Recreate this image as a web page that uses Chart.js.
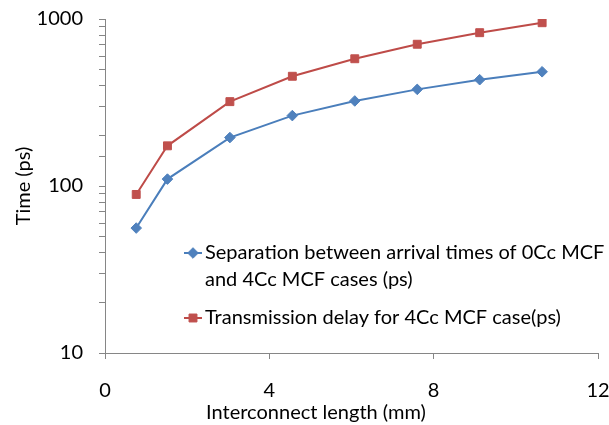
<!DOCTYPE html>
<html>
<head>
<meta charset="utf-8">
<script src="https://cdn.jsdelivr.net/npm/chart.js@4/dist/chart.umd.min.js"></script>
<style>
html,body{margin:0;padding:0;background:#fff;}
#wrap{width:609px;height:425px;position:relative;}
</style>
</head>
<body>
<div id="wrap"><canvas id="c" width="609" height="425"></canvas></div>
<script>
const lengthsMm = [0.76, 1.52, 3.04, 4.56, 6.08, 7.6, 9.12, 10.64];
const separationPs = [56, 110, 195, 264, 323, 379, 433, 483];
const delayPs = [89, 174, 320, 454, 578, 706, 828, 950];
const seriesNames = [
  ["Separation between arrival times of 0Cc MCF", "and 4Cc MCF cases (ps)"],
  ["Transmission delay for 4Cc MCF case(ps)"]
];
const xTicks = [0, 4, 8, 12];
const yTicks = [10, 100, 1000];
const xTitle = "Interconnect length (mm)";
const yTitle = "Time (ps)";

const FONT = "Lato, 'Liberation Sans', sans-serif";
const FS = 20;
const AXIS = '#868686';
const BLUE = '#4A7EBB', BLUE_M = '#4F81BD';
const RED = '#BE4B48', RED_M = '#C0504D';

function pts(xs, ys){ return xs.map((x,i)=>({x:x, y:ys[i]})); }

function drawMarker(ctx, style, x, y, r, color){
  ctx.save();
  ctx.fillStyle = color; ctx.strokeStyle = color; ctx.lineWidth = 1;
  ctx.beginPath();
  if (style === 'rectRot'){
    ctx.moveTo(x, y-r); ctx.lineTo(x+r, y); ctx.lineTo(x, y+r); ctx.lineTo(x-r, y);
  } else {
    const s = r*Math.SQRT1_2;
    ctx.rect(x-s, y-s, 2*s, 2*s);
  }
  ctx.closePath(); ctx.fill(); ctx.stroke();
  ctx.restore();
}

const legendAndTitle = {
  id: 'legendAndTitle',
  afterDraw(chart){
    const ctx = chart.ctx;
    ctx.save();
    ctx.fillStyle = '#000';
    ctx.textBaseline = 'middle';
    ctx.textAlign = 'left';
    ctx.font = FS + 'px ' + FONT;
    const items = [
      {ds: chart.data.datasets[0], y: 253, lines: seriesNames[0]},
      {ds: chart.data.datasets[1], y: 318, lines: seriesNames[1]}
    ];
    const lx0 = 184, lx1 = 202, tx = 205;
    items.forEach(it => {
      ctx.strokeStyle = it.ds.borderColor; ctx.lineWidth = 2;
      ctx.beginPath(); ctx.moveTo(lx0, it.y); ctx.lineTo(lx1, it.y); ctx.stroke();
      drawMarker(ctx, it.ds.pointStyle, (lx0+lx1)/2, it.y, it.ds.pointStyle==='rectRot'?5.3:5.6, it.ds.pointBackgroundColor);
      it.lines.forEach((t, k) => { ctx.fillText(t, tx, it.y + k*27); });
    });
    ctx.textAlign = 'center';
    ctx.fillText(xTitle, 316, 413);
    ctx.restore();
  }
};

new Chart(document.getElementById('c'), {
  type: 'line',
  data: {
    datasets: [
      {label: seriesNames[0].join(' '), data: pts(lengthsMm, separationPs),
       borderColor: BLUE, backgroundColor: BLUE_M, pointBackgroundColor: BLUE_M, pointBorderColor: BLUE_M,
       pointStyle: 'rectRot', pointRadius: 5.3, pointBorderWidth: 1, borderWidth: 2, tension: 0},
      {label: seriesNames[1].join(' '), data: pts(lengthsMm, delayPs),
       borderColor: RED, backgroundColor: RED_M, pointBackgroundColor: RED_M, pointBorderColor: RED_M,
       pointStyle: 'rect', pointRadius: 5.6, pointBorderWidth: 1, borderWidth: 2, tension: 0}
    ]
  },
  options: {
    responsive: false, animation: false,
    layout: {padding: {top: 19, right: 11, bottom: 0, left: 0}},
    plugins: {legend: {display: false}, tooltip: {enabled: false}},
    scales: {
      x: {
        type: 'linear', min: xTicks[0], max: xTicks[xTicks.length-1],
        afterBuildTicks(s){ s.ticks = xTicks.map(v=>({value:v})); },
        afterFit(s){ s.height = 72; s.paddingLeft = 0; s.paddingRight = 0; },
        ticks: {color: '#000', font: {family: FONT, size: FS}, padding: 20, maxRotation: 0},
        grid: {drawOnChartArea: false, color: AXIS, tickLength: 6},
        border: {color: AXIS, width: 1},
        title: {display: false}
      },
      y: {
        type: 'logarithmic', min: 10, max: 1000,
        afterFit(s){ s.width = 105; s.paddingTop = 0; s.paddingBottom = 0; },
        ticks: {color: '#000', font: {family: FONT, size: FS}, padding: 16, autoSkip: false,
          callback(v){ return yTicks.includes(v) ? String(v) : ''; }},
        grid: {drawOnChartArea: false, color: AXIS, tickLength: 6},
        border: {color: AXIS, width: 1},
        title: {display: true, text: yTitle, color: '#000', font: {family: FONT, size: FS}, padding: {top: 12, bottom: 0}}
      }
    }
  },
  plugins: [legendAndTitle]
});
</script>
</body>
</html>
